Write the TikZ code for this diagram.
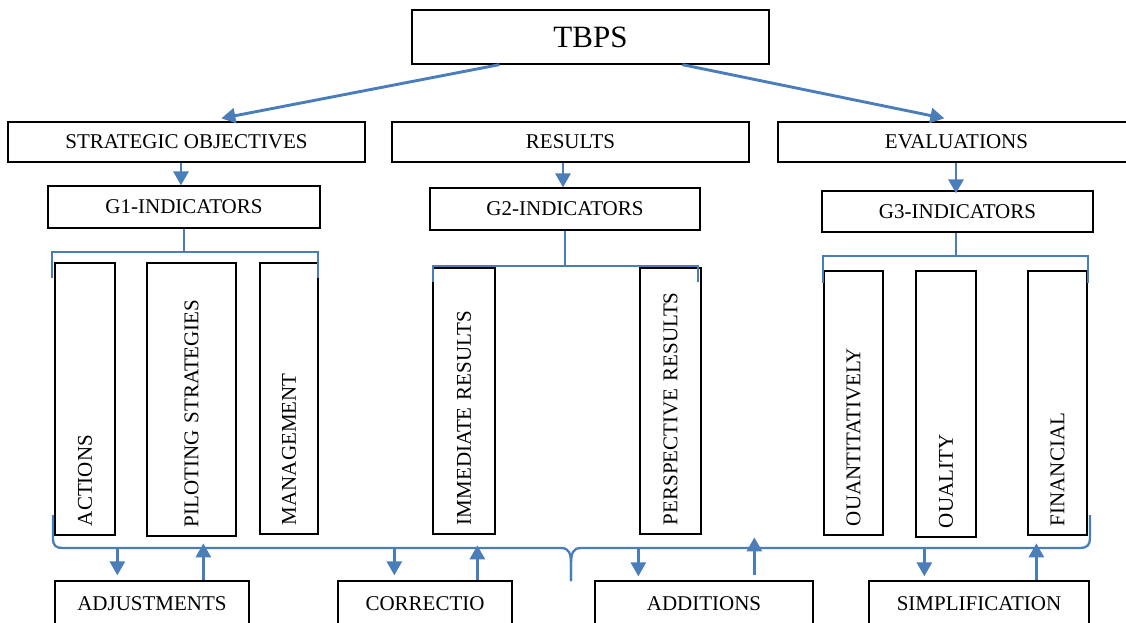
\documentclass[tikz,border=0pt]{standalone}
\usepackage{fontspec}
\setmainfont{Liberation Serif}
\usetikzlibrary{arrows.meta,calc}
\definecolor{linkblue}{RGB}{74,126,187}
\begin{document}
\begin{tikzpicture}[x=1pt,y=-1pt,
  box/.style={draw=black, line width=1.3pt, inner sep=0pt,
    font=\fontsize{21}{24}\selectfont},
  vbox/.style={box, rotate=90, align=left, inner xsep=9pt},
  link/.style={draw=linkblue, line width=2.9pt,
    -{Triangle[width=15pt,length=14pt]}},
  bracket/.style={draw=linkblue, line width=2.3pt},
]
\useasboundingbox (0,0) rectangle (1126,622);

% top level
\node[box, minimum width=357, minimum height=54,
  font=\fontsize{31}{34}\selectfont] (tbps) at (590.5,37) {TBPS};

% second level
\node[box, minimum width=357, minimum height=40] (strat) at (186.5,142) {STRATEGIC OBJECTIVES};
\node[box, minimum width=357, minimum height=40] (results) at (570.5,142) {RESULTS};
\node[box, minimum width=357, minimum height=40] (evals) at (956.5,142) {EVALUATIONS};

% indicator groups
\node[box, minimum width=272, minimum height=42] (g1) at (184,207) {G1-INDICATORS};
\node[box, minimum width=270, minimum height=42] (g2) at (565,209) {G2-INDICATORS};
\node[box, minimum width=271, minimum height=41] (g3) at (957.5,211.5) {G3-INDICATORS};

% indicator items (text runs upward from the bottom)
\node[vbox, text width=254, minimum height=60] (actions) at (85,399) {ACTIONS};
\node[vbox, text width=255, minimum height=89] (piloting) at (191.5,399.5) {PILOTING STRATEGIES};
\node[vbox, text width=253, minimum height=58] (management) at (289,398.5) {MANAGEMENT};
\node[vbox, text width=248, minimum height=62] (immediate) at (464,401) {IMMEDIATE RESULTS};
\node[vbox, text width=248, minimum height=61] (perspective) at (670.5,401) {PERSPECTIVE RESULTS};
\node[vbox, text width=246, minimum height=59] (quant) at (853.5,403) {OUANTITATIVELY};
\node[vbox, text width=248, minimum height=60] (quality) at (946,404) {OUALITY};
\node[vbox, text width=246, minimum height=59] (financial) at (1057.5,403) {FINANCIAL};

% bottom actions
\node[box, minimum width=194, minimum height=46] (adjust) at (152,604) {ADJUSTMENTS};
\node[box, minimum width=174, minimum height=46] (correct) at (425,604) {CORRECTIO};
\node[box, minimum width=218, minimum height=46] (additions) at (704,604) {ADDITIONS};
\node[box, minimum width=220, minimum height=46] (simpl) at (979,604) {SIMPLIFICATION};

% TBPS branches
\draw[link] ($(tbps.south west)+(88,0)$) -- ($(strat.north west)+(214,-3)$);
\draw[link] ($(tbps.south west)+(271,0)$) -- ($(evals.north west)+(167,-3)$);

% second level to indicator groups
\draw[link] ([xshift=-5.5pt]strat.south) -- ([xshift=-5.5pt]strat.south |- g1.north);
\draw[link] ([xshift=-7.5pt]results.south) -- ([xshift=-7.5pt]results.south |- g2.north);
\draw[link] ([xshift=-0.5pt]evals.south) -- ([xshift=-0.5pt,yshift=-3pt]evals.south |- g3.north);

% brackets over the items
\coordinate (k1) at (184,252);
\draw[bracket] (g1.south) -- (k1);
\draw[bracket] (52,278) -- (52,252) -- (318,252) -- (318,278);
\coordinate (k2) at (565,266);
\draw[bracket] (g2.south) -- (k2);
\draw[bracket] (433,282) -- (433,266) -- (698,266) -- (698,282);
\coordinate (k3) at (956,256);
\draw[bracket] ([xshift=-1.5pt]g3.south) -- (k3);
\draw[bracket] (823,283) -- (823,256) -- (1088,256) -- (1088,283);

% large brace under the items
\draw[bracket] (53,515) -- (53,538) .. controls (53,546) and (56,548) .. (63,548)
  -- (561,548) .. controls (569,548) and (571,553) .. (571,565) -- (571,581);
\draw[bracket] (571,581) -- (571,565) .. controls (571,553) and (573,548) .. (581,548)
  -- (1080,548) .. controls (1087,548) and (1090,545) .. (1090,538) -- (1090,515);

% feedback arrows between brace and actions
\draw[link] ($(adjust.north west)+(63,-33)$) -- ($(adjust.north west)+(63,-5)$);
\draw[link] ($(adjust.north west)+(149,0)$) -- ($(adjust.north west)+(149,-37)$);
\draw[link] ($(correct.north west)+(57,-33)$) -- ($(correct.north west)+(57,-5)$);
\draw[link] ($(correct.north west)+(140,0)$) -- ($(correct.north west)+(140,-35)$);
\draw[link] ($(additions.north west)+(44,-33)$) -- ($(additions.north west)+(44,-4)$);
\draw[link] ($(additions.north west)+(160,-5)$) -- ($(additions.north west)+(160,-43)$);
\draw[link] ($(simpl.north west)+(56,-33)$) -- ($(simpl.north west)+(56,-4)$);
\draw[link] ($(simpl.north west)+(168,0)$) -- ($(simpl.north west)+(168,-37)$);
\end{tikzpicture}
\end{document}
